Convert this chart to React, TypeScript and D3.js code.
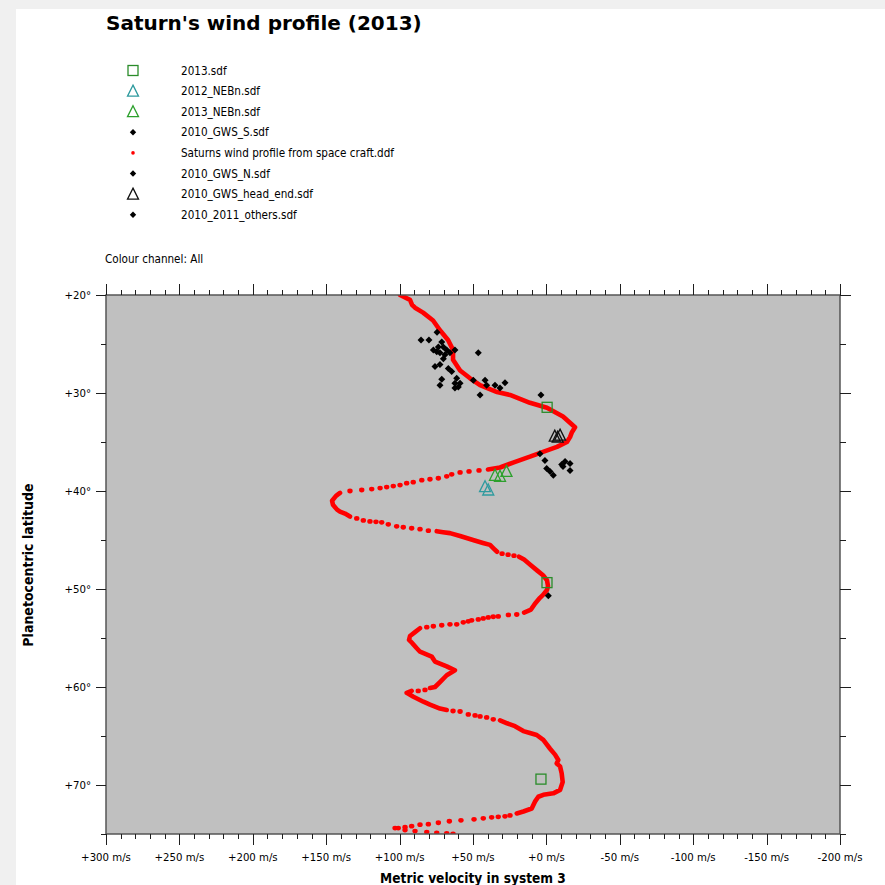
import React from "react";
import * as d3 from "d3";

type P = [number, number]; // [planetocentric latitude (deg), velocity (m/s)]

const titleText = "Saturn's wind profile (2013)";
const xAxisTitle = "Metric velocity in system 3";
const yAxisTitle = "Planetocentric latitude";
const channelText = "Colour channel: All";

const xTickValues = [300, 250, 200, 150, 100, 50, 0, -50, -100, -150, -200];
const yTickValues = [20, 30, 40, 50, 60, 70];

const legendLabels = [
  "2013.sdf",
  "2012_NEBn.sdf",
  "2013_NEBn.sdf",
  "2010_GWS_S.sdf",
  "Saturns wind profile from space craft.ddf",
  "2010_GWS_N.sdf",
  "2010_GWS_head_end.sdf",
  "2010_2011_others.sdf",
];

// Densely sampled parts of the space-craft profile (drawn as a continuous run), null = gap
const profileCurve: (P | null)[] = [
  [20.0, 99.7], [20.5, 92.9], [21.0, 91.5], [21.3, 89.5], [21.8, 84.0], [22.6, 77.2], [23.6, 72.5],
  [24.6, 67.0], [25.6, 63.6], [26.6, 63.6], [27.7, 58.8], [28.5, 52.0], [29.2, 45.2], [29.9, 33.6],
  [30.2, 24.8], [31.0, 11.2], [31.5, -0.4], [32.4, -11.3], [33.5, -19.5], [34.0, -17.4], [34.5, -16.1],
  [35.0, -14.0], [35.5, -7.2], [36.0, 2.3], [36.5, 11.2], [37.1, 22.7], [37.6, 31.6], [37.8, 39.8],
  null,
  [40.2, 140.6], [40.5, 143.3], [41.0, 146.0], [41.4, 145.4], [41.9, 142.6], [42.1, 140.6], [42.3, 137.2],
  [42.6, 133.8],
  null,
  [44.1, 74.7], [44.2, 70.4], [44.3, 65.7], [44.6, 58.8], [45.0, 50.0], [45.3, 43.2], [45.5, 38.4],
  [45.9, 35.7], [46.2, 33.6],
  null,
  [46.7, 18.7], [47.0, 15.2], [47.5, 11.2], [48.1, 6.4], [48.6, 2.3], [49.1, -0.4], [49.7, -1.1],
  [50.1, -0.4], [50.6, 2.3], [50.9, 4.4], [51.5, 7.8], [52.1, 10.5], [52.4, 15.2],
  null,
  [54.0, 86.1], [54.4, 89.5], [54.8, 92.9], [55.2, 93.6], [55.5, 91.5], [56.05, 88.3], [56.4, 86.1],
  [56.9, 78.1], [57.4, 75.9], [57.9, 67.9], [58.3, 62.3], [58.8, 67.9], [59.5, 72.5], [60.0, 75.9],
  [60.1, 79.3],
  null,
  [60.4, 91.8], [60.6, 95.2], [60.8, 92.9], [61.0, 90.6], [61.5, 83.8], [61.8, 79.3], [62.2, 72.5],
  [62.35, 67.9],
  null,
  [63.4, 31.6], [63.7, 26.8], [64.0, 21.4], [64.5, 15.7], [64.7, 11.2], [64.9, 6.6], [65.4, 2.1],
  [66.3, -2.5], [66.9, -5.9], [67.45, -8.1], [67.8, -7.0], [68.1, -9.3], [68.8, -10.4], [69.7, -11.1],
  [70.5, -9.3], [70.85, -4.7], [71.0, 2.1], [71.2, 5.5], [71.7, 7.8], [72.4, 10.0], [72.7, 15.7],
  [72.9, 20.2],
];

// Sparsely sampled parts of the profile (individual dots)
const profileDots: P[] = [
  [37.9, 45.9], [38.0, 52.7], [38.1, 58.8], [38.3, 64.5], [38.5, 67.9], [38.7, 73.6], [38.8, 79.3],
  [38.9, 84.9], [39.1, 90.7], [39.2, 95.2], [39.4, 99.7], [39.5, 104.3], [39.6, 108.8], [39.7, 113.3],
  [39.8, 119.0], [39.9, 125.8], [40.0, 133.8],
  [42.8, 129.2], [43.0, 124.7], [43.1, 120.2], [43.15, 116.1], [43.2, 112.2], [43.4, 107.7],
  [43.6, 102.0], [43.7, 97.5], [43.8, 91.8], [43.9, 86.1], [44.05, 80.4],
  [46.4, 30.2], [46.5, 26.1], [46.6, 22.1],
  [52.6, 20.2], [52.65, 25.9], [52.8, 32.8], [52.83, 36.2], [52.9, 39.6], [53.0, 43.0], [53.1, 46.4],
  [53.2, 50.9], [53.3, 53.2], [53.4, 56.6], [53.6, 61.1], [53.6, 65.7], [53.7, 71.3], [53.8, 77.0],
  [53.9, 81.5],
  [60.3, 82.7], [60.4, 87.3],
  [62.45, 63.6], [62.5, 58.8], [62.8, 53.2], [62.9, 48.6], [63.0, 45.2], [63.1, 40.7], [63.3, 36.2],
  [73.1, 24.8], [73.2, 28.2], [73.25, 32.8], [73.3, 37.3], [73.4, 43.0], [73.5, 49.3], [73.6, 58.2],
  [73.7, 66.1], [73.85, 73.6], [74.0, 80.4], [74.05, 86.1], [74.2, 91.8], [74.3, 96.3], [74.4, 100.9],
  [74.4, 103.1],
  [74.6, 96.3], [74.7, 89.5], [74.8, 81.5], [74.9, 74.7], [74.93, 67.9], [75.0, 63.6],
];

const gwsS: P[] = [
  [24.6, 85.4], [24.6, 80.0], [23.8, 74.5], [24.8, 71.3], [25.3, 73.6], [25.3, 70.2], [25.6, 77.0],
  [25.8, 74.7], [25.6, 67.9], [25.9, 72.5], [26.1, 69.1], [25.9, 65.7], [25.6, 62.3], [26.5, 70.2],
  [27.3, 75.9], [27.1, 72.5], [27.5, 66.8], [27.8, 64.5], [28.6, 71.3], [29.2, 72.5], [28.5, 61.1],
  [29.0, 62.3], [29.0, 58.8], [29.4, 60.0], [29.5, 62.3],
];
const gwsN: P[] = [
  [36.2, 4.4], [36.9, 1.0], [37.7, -0.2], [38.0, -2.5], [38.4, -4.7], [37.3, -10.4], [37.0, -12.7],
  [37.2, -16.1], [37.9, -16.1], [37.5, -11.3],
];
const others: P[] = [
  [25.9, 46.4], [28.7, 49.8], [28.7, 41.8], [29.2, 40.7], [30.2, 45.2], [29.2, 35.0], [29.5, 31.6],
  [28.95, 28.2], [30.2, 3.7], [50.7, -1.3],
];
const headEnd: P[] = [[34.4, -5.7], [34.3, -9.3], [34.5, -7.7]];
const nebn2012: P[] = [[39.56, 41.8], [39.9, 39.6]];
const nebn2013: P[] = [[38.4, 35.0], [38.5, 31.6], [38.0, 27.2]];
const sdf2013: P[] = [[31.46, -0.5], [49.35, -0.4], [69.4, 3.7]];

const FONT = "'DejaVu Sans Condensed', 'DejaVu Sans', sans-serif";
const TITLE_FONT = "'DejaVu Sans', sans-serif";
const GREEN = "#2a8c2a";
const TEAL = "#2e9a9e";
const GREEN2 = "#2ca02c";

const triPath = (cx: number, cy: number) =>
  `M${cx},${cy - 6}L${cx + 5.5},${cy + 5}L${cx - 5.5},${cy + 5}Z`;
const diamondPath = (cx: number, cy: number, r = 3.3) =>
  `M${cx},${cy - r}L${cx + r},${cy}L${cx},${cy + r}L${cx - r},${cy}Z`;

export default function App() {
  const left = 106, right = 840, top = 295, bottom = 834;
  const x = d3.scaleLinear().domain([300, -200]).range([left, right]);
  const y = d3.scaleLinear().domain([20, 75]).range([top, bottom]);

  const line = d3
    .line<P | null>()
    .defined((d) => d !== null)
    .x((d) => x((d as P)[1]))
    .y((d) => y((d as P)[0]));

  const xMinor = d3.range(-200, 301, 10);
  const yMinor = d3.range(20, 76, 5);
  const tickColor = "#1e1e1e";
  const frameColor = "#555";

  const legendMarker = (i: number, cx: number, cy: number) => {
    switch (i) {
      case 0:
        return <rect x={cx - 5} y={cy - 5} width={10} height={10} fill="none" stroke={GREEN} strokeWidth={1.3} />;
      case 1:
        return <path d={triPath(cx, cy)} fill="none" stroke={TEAL} strokeWidth={1.3} />;
      case 2:
        return <path d={triPath(cx, cy)} fill="none" stroke={GREEN2} strokeWidth={1.3} />;
      case 4:
        return <circle cx={cx} cy={cy} r={1.8} fill="#ff0000" />;
      case 6:
        return <path d={triPath(cx, cy)} fill="none" stroke="#111" strokeWidth={1.3} />;
      default:
        return <path d={diamondPath(cx, cy, 3.2)} fill="#000" />;
    }
  };

  return (
    <svg
      width={885}
      height={885}
      style={{ position: "absolute", left: 0, top: 0 }}
      fontFamily={FONT}
    >
      <defs>
        <clipPath id="plotClip">
          <rect x={left} y={top} width={right - left} height={bottom - top} />
        </clipPath>
      </defs>
      <rect x={0} y={0} width={885} height={885} fill="#f0f0f0" />
      <rect x={16} y={9} width={869} height={876} fill="#ffffff" />

      <text x={106} y={30} fontSize={20} fontWeight="bold" fill="#000" fontFamily={TITLE_FONT}>
        {titleText}
      </text>

      {legendLabels.map((lab, i) => {
        const cy = 70.5 + i * 20.6;
        return (
          <g key={lab}>
            {legendMarker(i, 133, cy)}
            <text x={181} y={cy + 4} fontSize={11.6} fill="#000">
              {lab}
            </text>
          </g>
        );
      })}
      <text x={105} y={263} fontSize={11.6} fill="#000">
        {channelText}
      </text>

      <rect x={left} y={top} width={right - left} height={bottom - top} fill="#c0c0c0" />

      <g clipPath="url(#plotClip)">
        <path
          d={line(profileCurve) || ""}
          fill="none"
          stroke="#ff0000"
          strokeWidth={4.6}
          strokeLinejoin="round"
          strokeLinecap="round"
        />
        {profileDots.map((d, i) => (
          <ellipse key={"pd" + i} cx={x(d[1])} cy={y(d[0])} rx={2.7} ry={2.4} fill="#ff0000" />
        ))}
        {[...gwsS, ...gwsN, ...others].map((d, i) => (
          <path key={"dm" + i} d={diamondPath(x(d[1]), y(d[0]), 3.5)} fill="#000" />
        ))}
        {sdf2013.map((d, i) => (
          <rect key={"sq" + i} x={x(d[1]) - 5} y={y(d[0]) - 5} width={10} height={10} fill="none" stroke={GREEN} strokeWidth={1.3} />
        ))}
        {nebn2012.map((d, i) => (
          <path key={"t12" + i} d={triPath(x(d[1]), y(d[0]))} fill="none" stroke={TEAL} strokeWidth={1.3} />
        ))}
        {nebn2013.map((d, i) => (
          <path key={"t13" + i} d={triPath(x(d[1]), y(d[0]))} fill="none" stroke={GREEN2} strokeWidth={1.3} />
        ))}
        {headEnd.map((d, i) => (
          <path key={"th" + i} d={triPath(x(d[1]), y(d[0]))} fill="none" stroke="#111" strokeWidth={1.3} />
        ))}
      </g>

      {/* frame */}
      <rect x={left} y={top} width={right - left} height={bottom - top} fill="none" stroke={frameColor} strokeWidth={1.5} />

      {/* x ticks top & bottom */}
      {xMinor.map((v) => {
        const major = v % 50 === 0;
        const px = Math.round(x(v)) + 0.5;
        return (
          <g key={"xt" + v} stroke={tickColor} strokeWidth={1}>
            <line x1={px} x2={px} y1={top} y2={top - (major ? 11 : 5)} />
            <line x1={px} x2={px} y1={bottom} y2={bottom + (major ? 11 : 5)} />
          </g>
        );
      })}
      {/* y ticks left & right */}
      {yMinor.map((v) => {
        const major = v % 10 === 0;
        const py = Math.round(y(v)) + 0.5;
        return (
          <g key={"yt" + v} stroke={tickColor} strokeWidth={1}>
            <line x1={left} x2={left - (major ? 10 : 5)} y1={py} y2={py} />
            <line x1={right} x2={right + (major ? 11 : 6)} y1={py} y2={py} />
          </g>
        );
      })}

      {xTickValues.map((v) => (
        <text key={"xl" + v} x={x(v)} y={861} fontSize={11.3} textAnchor="middle" fill="#000">
          {`${v >= 0 ? "+" : ""}${v} m/s`}
        </text>
      ))}
      {yTickValues.map((v) => (
        <text key={"yl" + v} x={91} y={y(v) + 4} fontSize={11.3} textAnchor="end" fill="#000">
          {`+${v}°`}
        </text>
      ))}

      <text x={473} y={883} fontSize={13.6} fontWeight="bold" textAnchor="middle" fill="#000">
        {xAxisTitle}
      </text>
      <text
        transform={`translate(33,565) rotate(-90)`}
        fontSize={14}
        fontWeight="bold"
        textAnchor="middle"
        fill="#000"
      >
        {yAxisTitle}
      </text>
    </svg>
  );
}
